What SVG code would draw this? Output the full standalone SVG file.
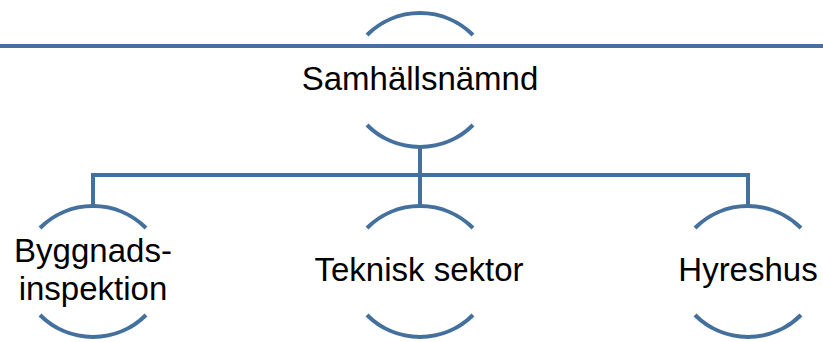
<svg xmlns="http://www.w3.org/2000/svg" width="823" height="342" viewBox="0 0 823 342">
<style>
.arc{fill:none;stroke:#44709D;stroke-width:4}
.con{fill:none;stroke:#44709D;stroke-width:4;stroke-linejoin:miter}
.t{font-family:"Liberation Sans",Arial,sans-serif;font-size:33px;fill:#000;text-anchor:middle}
</style>
<rect width="823" height="342" fill="#fff"/>
<g id="connectors">
<line class="con" x1="0" y1="46" x2="823" y2="46"/>
<path class="con" d="M420,145 V207"/>
<path class="con" d="M93,207 V175 H748 V207"/>
</g>
<g id="node-samhallsnamnd">
<path class="arc" d="M367,35 A75,75 0 0 1 473,35"/>
<path class="arc" d="M367,125 A75,75 0 0 0 473,125"/>
<text class="t" x="420" y="90">Samhällsnämnd</text>
</g>
<g id="node-byggnadsinspektion">
<path class="arc" d="M40,228 A75,75 0 0 1 146,228"/>
<path class="arc" d="M40,315 A75,75 0 0 0 146,315"/>
<text class="t" x="93" y="262">Byggnads-</text>
<text class="t" x="93" y="300">inspektion</text>
</g>
<g id="node-teknisk-sektor">
<path class="arc" d="M367,228 A75,75 0 0 1 473,228"/>
<path class="arc" d="M367,315 A75,75 0 0 0 473,315"/>
<text class="t" x="419" y="281">Teknisk sektor</text>
</g>
<g id="node-hyreshus">
<path class="arc" d="M695,228 A75,75 0 0 1 801,228"/>
<path class="arc" d="M695,315 A75,75 0 0 0 801,315"/>
<text class="t" x="748" y="281">Hyreshus</text>
</g>
</svg>
